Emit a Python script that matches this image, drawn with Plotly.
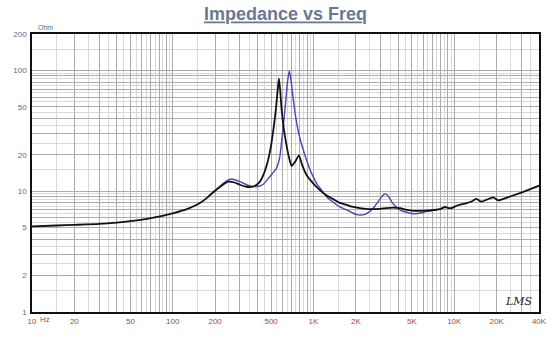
import math
import plotly.graph_objects as go

# Impedance magnitude (ohm) versus frequency (Hz)
freq_black = [10, 15, 20, 30, 40, 50, 70, 100, 130, 156, 175, 194, 220, 248, 275, 300,
              330, 353, 385, 416, 440, 465, 485, 504, 525, 541, 556, 568, 580, 593,
              615, 637, 673, 699, 740, 788, 830, 893, 995, 1110, 1240, 1380, 1540,
              1720, 1916, 2140, 2517, 2966, 3305, 3700, 4110, 4600, 5105, 5800, 6710,
              7907, 8600, 9100, 9570, 10380, 12220, 13500, 14390, 15540, 17000, 18890,
              20500, 24000, 29240, 34000, 40000]
imp_black = [5.12, 5.2, 5.26, 5.36, 5.5, 5.65, 5.98, 6.55, 7.2, 7.97, 8.8, 9.8, 11.0, 12.0,
             11.8, 11.3, 10.9, 10.8, 11.1, 12.0, 13.6, 16.4, 20.0, 25.5, 36.0, 48.0, 68.0,
             86.0, 68.0, 48.0, 33.0, 25.5, 18.6, 16.2, 17.5, 19.8, 16.5, 13.6, 11.6, 10.2,
             9.2, 8.6, 8.0, 7.7, 7.4, 7.25, 7.1, 7.15, 7.25, 7.3, 7.25, 7.0, 6.88, 6.88,
             6.94, 7.1, 7.4, 7.25, 7.25, 7.57, 7.97, 8.3, 8.65, 8.2, 8.5, 8.9, 8.4, 8.9,
             9.63, 10.3, 11.1]

freq_blue = [180, 216, 240, 262, 300, 340, 384, 420, 440, 476, 510, 547, 575, 593, 615,
             637, 655, 673, 690, 718, 750, 779, 810, 845, 890, 942, 1000, 1052, 1140,
             1239, 1380, 1540, 1718, 1900, 2023, 2138, 2300, 2517, 2700, 2879, 3050,
             3214, 3400, 3582, 3890, 4200, 4580, 5240, 5800, 6350, 7000, 7907]
imp_blue = [9.1, 11.0, 12.1, 12.6, 12.0, 11.2, 10.9, 11.1, 11.4, 12.7, 14.0, 15.6, 19.0,
            25.5, 38.0, 57.8, 82.0, 99.0, 85.0, 57.8, 40.0, 31.5, 26.0, 22.0, 18.3, 15.2,
            13.0, 11.6, 10.2, 9.0, 8.1, 7.4, 7.0, 6.6, 6.4, 6.35, 6.4, 6.8, 7.4, 8.2, 9.0,
            9.5, 9.1, 8.2, 7.35, 6.9, 6.7, 6.5, 6.6, 6.8, 6.9, 7.1]

x_labels = {10: "10", 20: "20", 50: "50", 100: "100", 200: "200", 500: "500",
            1000: "1K", 2000: "2K", 5000: "5K", 10000: "10K", 20000: "20K", 40000: "40K"}
y_labels = {1: "1", 2: "2", 5: "5", 10: "10", 20: "20", 50: "50", 100: "100", 200: "200"}

F_MIN, F_MAX = 10, 40000
Z_MIN, Z_MAX = 1, 200


def log_grid(lo, hi, steps):
    vals = []
    dec = 10 ** math.floor(math.log10(lo))
    while dec <= hi:
        for s in steps:
            v = round(s * dec, 6)
            if lo <= v <= hi and v not in vals:
                vals.append(v)
        dec *= 10
    return vals


major_steps = [1, 2, 3, 4, 5, 6, 7, 8, 9]
minor_steps = [1.5, 2.5, 3.5, 4.5, 5.5, 6.5, 7.5, 8.5, 9.5]

x_major = log_grid(F_MIN, F_MAX, major_steps)
x_minor = log_grid(F_MIN, F_MAX, minor_steps)
y_major = log_grid(Z_MIN, Z_MAX, major_steps)
y_minor = log_grid(Z_MIN, Z_MAX, minor_steps)

fig = go.Figure()
fig.add_trace(go.Scatter(x=freq_blue, y=imp_blue, mode="lines",
                         line=dict(color="#4848aa", width=1.4, shape="spline", smoothing=0.6),
                         hoverinfo="skip", showlegend=False))
fig.add_trace(go.Scatter(x=freq_black, y=imp_black, mode="lines",
                         line=dict(color="#111111", width=1.8, shape="spline", smoothing=0.6),
                         hoverinfo="skip", showlegend=False))

fig.update_xaxes(
    type="log", range=[math.log10(F_MIN), math.log10(F_MAX)],
    tickmode="array", tickvals=x_major,
    ticktext=[x_labels.get(int(v), "") for v in x_major],
    tickfont=dict(family="Liberation Sans, Arial", size=8, color="#9a4a4a"),
    ticks="", showgrid=True, gridcolor="#ababab", gridwidth=1,
    minor=dict(tickmode="array", tickvals=x_minor, showgrid=True,
               gridcolor="#d9d9d9", gridwidth=1, ticks=""),
    showline=True, linecolor="#111111", linewidth=1.6, mirror=True,
    zeroline=False, ticklabelstandoff=1,
)
fig.update_yaxes(
    type="log", range=[math.log10(Z_MIN), math.log10(Z_MAX)],
    tickmode="array", tickvals=y_major,
    ticktext=[y_labels.get(int(v), "") for v in y_major],
    tickfont=dict(family="Liberation Sans, Arial", size=8, color="#5c6a86"),
    ticks="", showgrid=True, gridcolor="#ababab", gridwidth=1,
    minor=dict(tickmode="array", tickvals=y_minor, showgrid=True,
               gridcolor="#d9d9d9", gridwidth=1, ticks=""),
    showline=True, linecolor="#111111", linewidth=1.6, mirror=True,
    zeroline=False, ticklabelstandoff=2,
)

fig.update_layout(
    width=560, height=338,
    margin=dict(l=32, r=21, t=34, b=23),
    paper_bgcolor="white", plot_bgcolor="white",
    title=dict(text="<b><u>Impedance vs Freq</u></b>", x=0.51, xanchor="center",
               y=0.958, yanchor="middle",
               font=dict(family="Liberation Sans, Arial", size=18, color="#6b7892")),
    annotations=[
        dict(text="Ohm", xref="paper", yref="paper", x=0.0, y=1.0, xanchor="left",
             yanchor="bottom", xshift=4, yshift=1, showarrow=False,
             font=dict(family="Liberation Sans, Arial", size=7, color="#5c6a86")),
        dict(text="Hz", xref="x", yref="paper", x=math.log10(12.4), y=0, yanchor="top",
             yshift=-1, showarrow=False,
             font=dict(family="Liberation Sans, Arial", size=8, color="#9a4a4a")),
        dict(text="<i>LMS</i>", xref="x", yref="y", x=math.log10(29000), y=math.log10(1.23),
             showarrow=False,
             font=dict(family="DejaVu Serif", size=11, color="#222222")),
    ],
)

fig.write_html("out.html")
